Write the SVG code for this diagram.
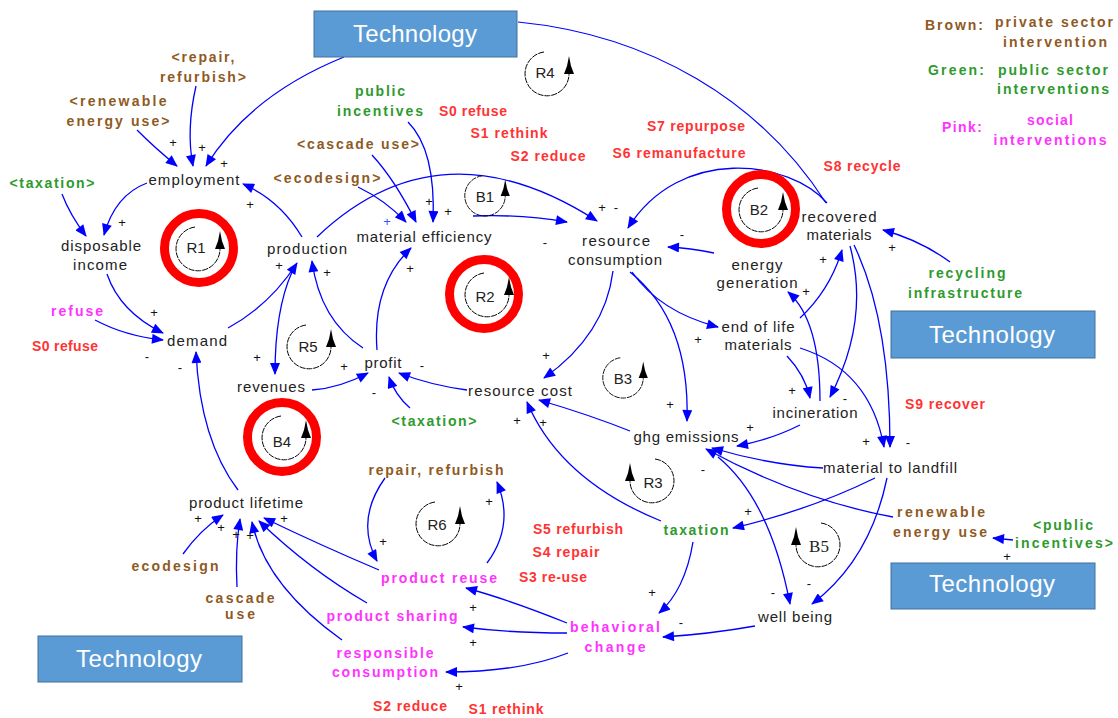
<svg xmlns="http://www.w3.org/2000/svg" xmlns:xlink="http://www.w3.org/1999/xlink" width="1118" height="718" viewBox="0 0 1118 718">
  <style>
    text { text-anchor: middle; font-family: "Liberation Sans", Arial, sans-serif; }
    .n { font-size: 15px; fill: #222; }
    .c { font-size: 14px; font-weight: bold; }
    .br { fill: #8E5A24; }
    .gr { fill: #2E9A2E; }
    .pk { fill: #FF33FF; }
    .rd { fill: #FF3333; }
    .s { font-size: 13px; fill: #111; }
    .lp { font-size: 15px; fill: #222; }
    .lk { fill: none; stroke: #0000FF; stroke-width: 1.3; marker-end: url(#ah); }
    .ln { fill: none; stroke: #0000FF; stroke-width: 1.2; }
    .ring { fill: none; stroke: #FF0000; stroke-width: 9; }
    .box { fill: #5B9BD5; stroke: #41719C; stroke-width: 1; }
    .tt { font-size: 24px; fill: #FFFFFF; }
  </style>
  <defs>
    <marker id="ah" viewBox="0 0 12 10" refX="11" refY="5" markerWidth="13" markerHeight="10" markerUnits="userSpaceOnUse" orient="auto">
      <path d="M0,0 L12,5 L0,10 z" fill="#0000FF"/>
    </marker>
    <!-- loop symbol, counter-clockwise, arrow on the right side -->
    <g id="ccw">
      <path d="M-3,-22 A22,22 0 1 0 22,-1" fill="none" stroke="#000" stroke-width="1" stroke-dasharray="6 1"/>
      <path d="M22,-18 L20,-8 L17,0 L27,0 L24,-8 z" fill="#000"/>
    </g>
    <!-- loop symbol, clockwise, arrow on the left side -->
    <g id="cw">
      <use xlink:href="#ccw" transform="scale(-1,1)"/>
    </g>
  </defs>

  <rect width="1118" height="718" fill="#FFFFFF"/>

  <!-- causal links -->
  <g id="connectors">
    <path class="lk" d="M137,130 Q155,148 177,166"/>
    <path class="lk" d="M196,86 Q186,130 193,166"/>
    <path class="lk" d="M344,57 Q250,95 206,166"/>
    <path class="lk" d="M62,194 Q70,215 86,236"/>
    <path class="lk" d="M147,183 Q115,195 104,235"/>
    <path class="lk" d="M302,237 Q280,200 243,184"/>
    <path class="lk" d="M107,274 Q120,312 163,333"/>
    <path class="lk" d="M95,320 Q125,336 163,340"/>
    <path class="lk" d="M228,328 Q270,305 297,263"/>
    <path class="lk" d="M292,272 Q275,310 275,374"/>
    <path class="lk" d="M363,348 Q320,320 312,261"/>
    <path class="lk" d="M312,390 Q340,388 368,373"/>
    <path class="lk" d="M238,490 Q200,440 196,352"/>
    <path class="lk" d="M317,237 Q440,120 597,221"/>
    <path class="lk" d="M473,216 Q520,214 567,222"/>
    <path class="lk" d="M372,155 Q395,180 416,222"/>
    <path class="lk" d="M358,187 Q385,200 406,222"/>
    <path class="lk" d="M408,122 Q436,150 433,222"/>
    <path class="lk" d="M377,350 Q372,285 411,248"/>
    <path class="lk" d="M467,390 Q430,385 399,373"/>
    <path class="lk" d="M410,408 Q395,395 389,377"/>
    <path class="lk" d="M613,271 Q605,335 544,378"/>
    <path class="lk" d="M630,431 Q590,415 539,400"/>
    <path class="lk" d="M661,521 Q560,480 527,402"/>
    <path class="lk" d="M630,272 Q690,320 687,421"/>
    <path class="lk" d="M632,272 Q660,312 718,327"/>
    <path class="lk" d="M714,253 Q690,248 668,247"/>
    <path class="lk" d="M827,203 C790,160 680,145 628,228"/>
    <path class="ln" d="M518,22 C650,35 760,100 826,203"/>
    <path class="lk" d="M950,262 Q920,240 883,230"/>
    <path class="lk" d="M800,318 Q830,290 842,250"/>
    <path class="lk" d="M820,401 Q820,320 788,292"/>
    <path class="lk" d="M850,246 Q870,320 830,397"/>
    <path class="lk" d="M787,356 Q805,375 810,398"/>
    <path class="lk" d="M854,245 Q890,320 890,447"/>
    <path class="lk" d="M800,348 Q870,370 884,447"/>
    <path class="lk" d="M800,425 Q770,440 737,446"/>
    <path class="lk" d="M823,468 Q770,465 712,448"/>
    <path class="lk" d="M893,517 Q800,500 706,449"/>
    <path class="lk" d="M718,457 Q770,500 790,604"/>
    <path class="lk" d="M887,478 Q870,560 812,604"/>
    <path class="lk" d="M875,478 Q810,510 733,528"/>
    <path class="lk" d="M755,626 Q710,634 663,637"/>
    <path class="lk" d="M693,542 Q685,590 659,613"/>
    <path class="lk" d="M567,623 Q510,600 466,588"/>
    <path class="lk" d="M567,633 Q510,633 463,627"/>
    <path class="lk" d="M568,653 Q520,672 446,672"/>
    <path class="lk" d="M385,478 Q355,520 377,561"/>
    <path class="lk" d="M487,563 Q515,525 497,482"/>
    <path class="lk" d="M379,570 Q320,545 264,518"/>
    <path class="lk" d="M367,603 Q310,570 259,521"/>
    <path class="lk" d="M342,640 Q265,585 252,522"/>
    <path class="lk" d="M237,587 Q235,550 240,519"/>
    <path class="lk" d="M183,554 Q200,530 223,515"/>
    <path class="lk" d="M1013,540 L993,538"/>
  </g>

  <!-- link polarities -->
  <g id="polarities" class="s">
    <text x="173" y="147">+</text>
    <text x="202" y="152">+</text>
    <text x="224" y="168">+</text>
    <text x="122" y="227">+</text>
    <text x="250" y="209">+</text>
    <text x="154" y="317">+</text>
    <text x="147" y="361">-</text>
    <text x="180" y="372">-</text>
    <text x="279" y="270">+</text>
    <text x="327" y="277">+</text>
    <text x="257" y="362">+</text>
    <text x="344" y="371">+</text>
    <text x="422" y="370">-</text>
    <text x="374" y="397">-</text>
    <text x="410" y="273">+</text>
    <text x="429" y="206">+</text>
    <text x="448" y="216">+</text>
    <text x="387" y="226" style="fill:#3355FF">+</text>
    <text x="602" y="212">+</text>
    <text x="616" y="212">-</text>
    <text x="545" y="247">-</text>
    <text x="682" y="239">-</text>
    <text x="546" y="360">+</text>
    <text x="543" y="427">+</text>
    <text x="517" y="425">+</text>
    <text x="670" y="409">+</text>
    <text x="698" y="344">+</text>
    <text x="892" y="252">+</text>
    <text x="823" y="264">+</text>
    <text x="806" y="296">+</text>
    <text x="792" y="395">+</text>
    <text x="845" y="403">-</text>
    <text x="866" y="446">+</text>
    <text x="908" y="447">-</text>
    <text x="750" y="432">+</text>
    <text x="703" y="474">-</text>
    <text x="748" y="516">+</text>
    <text x="773" y="597">-</text>
    <text x="809" y="588">-</text>
    <text x="681" y="627">-</text>
    <text x="652" y="597">+</text>
    <text x="473" y="612">+</text>
    <text x="473" y="647">+</text>
    <text x="459" y="691">+</text>
    <text x="383" y="546">+</text>
    <text x="489" y="506">+</text>
    <text x="284" y="523">+</text>
    <text x="198" y="523">+</text>
    <text x="221" y="532">+</text>
    <text x="236" y="539">+</text>
    <text x="250" y="540">+</text>
    <text x="1007" y="561">+</text>
  </g>

  <!-- feedback loop markers -->
  <g id="loop-R1"><circle class="ring" cx="199" cy="248" r="34.5"/><use xlink:href="#ccw" transform="translate(198,249)"/><text class="lp" x="196" y="253">R1</text></g>
  <g id="loop-R2"><circle class="ring" cx="484" cy="294" r="34.5"/><use xlink:href="#ccw" transform="translate(487,295)"/><text class="lp" x="485" y="302">R2</text></g>
  <g id="loop-B2"><circle class="ring" cx="761" cy="209" r="34.5"/><use xlink:href="#ccw" transform="translate(761,210)"/><text class="lp" x="759" y="215">B2</text></g>
  <g id="loop-B4"><circle class="ring" cx="282" cy="437" r="34.5"/><use xlink:href="#ccw" transform="translate(284,438)"/><text class="lp" x="282" y="447">B4</text></g>
  <g id="loop-R4"><use xlink:href="#ccw" transform="translate(547,74)"/><text class="lp" x="545" y="78">R4</text></g>
  <g id="loop-B1"><use xlink:href="#ccw" transform="translate(485,196) scale(0.92)"/><text class="lp" x="485" y="202">B1</text></g>
  <g id="loop-R5"><use xlink:href="#ccw" transform="translate(309,347)"/><text class="lp" x="308" y="352">R5</text></g>
  <g id="loop-B3"><use xlink:href="#ccw" transform="translate(623,378) scale(0.92)"/><text class="lp" x="623" y="384">B3</text></g>
  <g id="loop-R6"><use xlink:href="#ccw" transform="translate(438,524)"/><text class="lp" x="437" y="530">R6</text></g>
  <g id="loop-R3"><use xlink:href="#cw" transform="translate(652,481)"/><text class="lp" x="653" y="488">R3</text></g>
  <g id="loop-B5"><use xlink:href="#cw" transform="translate(818,545)"/><text class="lp" x="819" y="552" style="font-family:'Liberation Serif',serif;font-size:17px">B5</text></g>

  <!-- Technology boxes -->
  <g id="tech-top"><rect class="box" x="314" y="11" width="203" height="46"/><text class="tt" x="415" y="42" textLength="124">Technology</text></g>
  <g id="tech-right"><rect class="box" x="891" y="311" width="204" height="47"/><text class="tt" x="992" y="343" textLength="126">Technology</text></g>
  <g id="tech-bottom-right"><rect class="box" x="891" y="563" width="204" height="46"/><text class="tt" x="992" y="592" textLength="126">Technology</text></g>
  <g id="tech-left"><rect class="box" x="38" y="636" width="204" height="46"/><text class="tt" x="139" y="667" textLength="126">Technology</text></g>

  <!-- legend -->
  <g id="legend" class="c">
    <text class="br" x="954" y="30" textLength="58">Brown:</text>
    <text class="br" x="1054" y="27" textLength="118">private sector</text>
    <text class="br" x="1055" y="47" textLength="104">intervention</text>
    <text class="gr" x="956" y="75" textLength="56">Green:</text>
    <text class="gr" x="1053" y="75" textLength="110">public sector</text>
    <text class="gr" x="1053" y="94" textLength="112">interventions</text>
    <text class="pk" x="962" y="132" textLength="40">Pink:</text>
    <text class="pk" x="1050" y="125" textLength="46">social</text>
    <text class="pk" x="1050" y="145" textLength="113">interventions</text>
  </g>

  <!-- model variables -->
  <g id="employment"><text class="n" x="194" y="185" textLength="91">employment</text></g>
  <g id="disposable-income"><text class="n" x="101" y="251" textLength="80">disposable</text><text class="n" x="100" y="270" textLength="54">income</text></g>
  <g id="production"><text class="n" x="307" y="254" textLength="80">production</text></g>
  <g id="material-efficiency"><text class="n" x="424" y="242" textLength="135">material efficiency</text></g>
  <g id="resource-consumption"><text class="n" x="616" y="246" textLength="68">resource</text><text class="n" x="615" y="265" textLength="94">consumption</text></g>
  <g id="recovered-materials"><text class="n" x="839" y="222" textLength="75">recovered</text><text class="n" x="839" y="240" textLength="65">materials</text></g>
  <g id="energy-generation"><text class="n" x="757" y="270" textLength="51">energy</text><text class="n" x="757" y="288" textLength="81">generation</text></g>
  <g id="end-of-life-materials"><text class="n" x="758" y="332" textLength="73">end of life</text><text class="n" x="758" y="350" textLength="67">materials</text></g>
  <g id="demand"><text class="n" x="197" y="346" textLength="60">demand</text></g>
  <g id="revenues"><text class="n" x="271" y="392" textLength="68">revenues</text></g>
  <g id="profit"><text class="n" x="383" y="368" textLength="37">profit</text></g>
  <g id="resource-cost"><text class="n" x="520" y="396" textLength="104">resource cost</text></g>
  <g id="ghg-emissions"><text class="n" x="686" y="442" textLength="105">ghg emissions</text></g>
  <g id="incineration"><text class="n" x="815" y="418" textLength="85">incineration</text></g>
  <g id="material-to-landfill"><text class="n" x="890" y="473" textLength="134">material to landfill</text></g>
  <g id="product-lifetime"><text class="n" x="246" y="508" textLength="114">product lifetime</text></g>
  <g id="well-being"><text class="n" x="795" y="622" textLength="74">well being</text></g>

  <!-- private sector interventions -->
  <g id="repair-refurbish-shadow" class="c br"><text x="203" y="62" textLength="63">&lt;repair,</text><text x="203" y="82" textLength="86">refurbish&gt;</text></g>
  <g id="renewable-shadow" class="c br"><text x="118" y="106" textLength="97">&lt;renewable</text><text x="118" y="126" textLength="103">energy use&gt;</text></g>
  <g id="cascade-use-shadow" class="c br"><text x="358" y="149" textLength="122">&lt;cascade use&gt;</text></g>
  <g id="ecodesign-shadow" class="c br"><text x="327" y="183" textLength="107">&lt;ecodesign&gt;</text></g>
  <g id="repair-refurbish" class="c br"><text x="436" y="475" textLength="135">repair, refurbish</text></g>
  <g id="renewable-energy-use" class="c br"><text x="941" y="517" textLength="88">renewable</text><text x="940" y="537" textLength="94">energy use</text></g>
  <g id="ecodesign" class="c br"><text x="175" y="571" textLength="87">ecodesign</text></g>
  <g id="cascade-use" class="c br"><text x="240" y="603" textLength="69">cascade</text><text x="240" y="619" textLength="30">use</text></g>

  <!-- public sector interventions -->
  <g id="taxation-shadow-1" class="c gr"><text x="52" y="188" textLength="85">&lt;taxation&gt;</text></g>
  <g id="public-incentives" class="c gr"><text x="380" y="96" textLength="50">public</text><text x="380" y="116" textLength="86">incentives</text></g>
  <g id="recycling-infrastructure" class="c gr"><text x="967" y="278" textLength="77">recycling</text><text x="965" y="298" textLength="114">infrastructure</text></g>
  <g id="taxation-shadow-2" class="c gr"><text x="434" y="426" textLength="85">&lt;taxation&gt;</text></g>
  <g id="taxation" class="c gr"><text x="696" y="535" textLength="65">taxation</text></g>
  <g id="public-incentives-shadow" class="c gr"><text x="1063" y="530" textLength="60">&lt;public</text><text x="1064" y="548" textLength="98">incentives&gt;</text></g>

  <!-- social interventions -->
  <g id="refuse" class="c pk"><text x="77" y="316" textLength="52">refuse</text></g>
  <g id="product-reuse" class="c pk"><text x="439" y="583" textLength="116">product reuse</text></g>
  <g id="product-sharing" class="c pk"><text x="392" y="621" textLength="131">product sharing</text></g>
  <g id="responsible-consumption" class="c pk"><text x="385" y="658" textLength="97">responsible</text><text x="385" y="677" textLength="106">consumption</text></g>
  <g id="behavioral-change" class="c pk"><text x="615" y="632" textLength="90">behavioral</text><text x="615" y="652" textLength="61">change</text></g>

  <!-- R-strategies -->
  <g id="strategies" class="c rd">
    <text x="473" y="116" textLength="68">S0 refuse</text>
    <text x="509" y="138" textLength="77">S1 rethink</text>
    <text x="548" y="161" textLength="75">S2 reduce</text>
    <text x="696" y="131" textLength="98">S7 repurpose</text>
    <text x="679" y="158" textLength="133">S6 remanufacture</text>
    <text x="862" y="171" textLength="77">S8 recycle</text>
    <text x="65" y="351" textLength="66">S0 refuse</text>
    <text x="945" y="409" textLength="80">S9 recover</text>
    <text x="578" y="534" textLength="90">S5 refurbish</text>
    <text x="566" y="557" textLength="67">S4 repair</text>
    <text x="553" y="582" textLength="68">S3 re-use</text>
    <text x="410" y="711" textLength="74">S2 reduce</text>
    <text x="506" y="714" textLength="75">S1 rethink</text>
  </g>
</svg>
